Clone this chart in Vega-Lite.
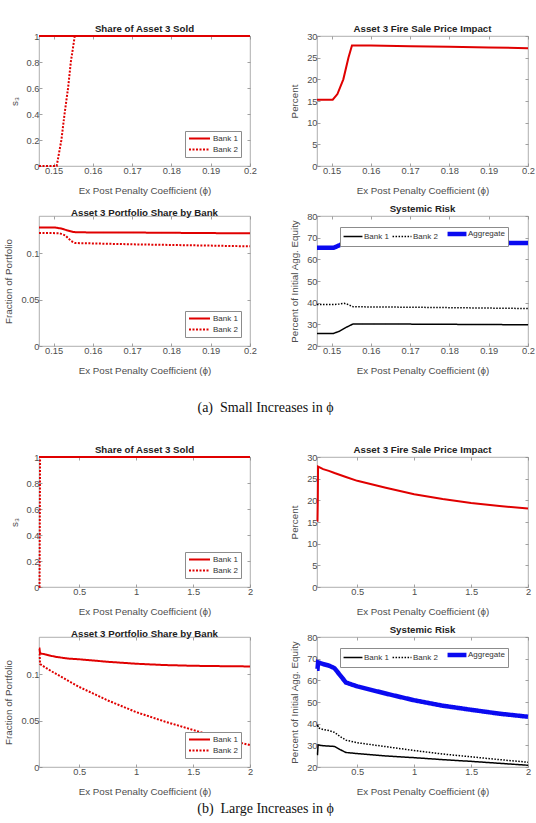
{
  "$schema": "https://vega.github.io/schema/vega-lite/v6.json",
  "padding": {"left": 3, "top": 23, "right": 2, "bottom": 2},
  "columns": 2,
  "align": "each",
  "bounds": "flush",
  "spacing": {"row": 50, "column": 67},
  "resolve": {"scale": {"color": "independent", "strokeDash": "independent"}},
  "config": {
    "font": "Liberation Sans",
    "view": {"stroke": "#9a9a9a", "strokeWidth": 0.8},
    "axis": {
      "grid": false,
      "domain": false,
      "ticks": true,
      "tickColor": "#8a8a8a",
      "tickSize": -3,
      "tickWidth": 0.8,
      "labelFlush": false,
      "labelOverlap": false,
      "labelFontSize": 9.3,
      "labelColor": "#4d4d4d",
      "labelPadding": 3,
      "titleFontSize": 9.8,
      "titleFontWeight": "normal",
      "titleColor": "#4d4d4d",
      "format": ".3~g"
    },
    "axisX": {"titlePadding": 10},
    "axisY": {"titlePadding": 7},
    "title": {"fontSize": 9.7, "fontWeight": "bold", "color": "#222222", "offset": -2},
    "legend": {
      "title": null,
      "strokeColor": "#8c8c8c",
      "fillColor": "white",
      "padding": 3,
      "symbolType": "M-3,0H3",
      "symbolSize": 49,
      "symbolOffset": 7,
      "labelOffset": 9,
      "labelFontSize": 8,
      "labelColor": "#333333",
      "rowPadding": 2,
      "symbolStrokeWidth": 2
    }
  },
  "datasets": {
    "small_sold": [
      {"phi": 0.1463, "series": "Bank 2", "value": 0},
      {"phi": 0.1508, "series": "Bank 2", "value": 0},
      {"phi": 0.152, "series": "Bank 2", "value": 0.2},
      {"phi": 0.1528, "series": "Bank 2", "value": 0.4},
      {"phi": 0.1537, "series": "Bank 2", "value": 0.6},
      {"phi": 0.1544, "series": "Bank 2", "value": 0.8},
      {"phi": 0.1554, "series": "Bank 2", "value": 1},
      {"phi": 0.2, "series": "Bank 2", "value": 1},
      {"phi": 0.1463, "series": "Bank 1", "value": 1},
      {"phi": 0.2, "series": "Bank 1", "value": 1}
    ],
    "small_price": [
      {"phi": 0.1463, "value": 15.3},
      {"phi": 0.1503, "value": 15.3},
      {"phi": 0.1515, "value": 16.6},
      {"phi": 0.153, "value": 20},
      {"phi": 0.1543, "value": 25},
      {"phi": 0.1552, "value": 27.8},
      {"phi": 0.16, "value": 27.8},
      {"phi": 0.17, "value": 27.65},
      {"phi": 0.18, "value": 27.5},
      {"phi": 0.19, "value": 27.35},
      {"phi": 0.2, "value": 27.2}
    ],
    "small_share": [
      {"phi": 0.1463, "series": "Bank 1", "value": 0.1275},
      {"phi": 0.1505, "series": "Bank 1", "value": 0.1275},
      {"phi": 0.152, "series": "Bank 1", "value": 0.1265},
      {"phi": 0.1535, "series": "Bank 1", "value": 0.1245},
      {"phi": 0.155, "series": "Bank 1", "value": 0.1228},
      {"phi": 0.1558, "series": "Bank 1", "value": 0.1224},
      {"phi": 0.17, "series": "Bank 1", "value": 0.1222},
      {"phi": 0.18, "series": "Bank 1", "value": 0.1219},
      {"phi": 0.19, "series": "Bank 1", "value": 0.1216},
      {"phi": 0.2, "series": "Bank 1", "value": 0.1213},
      {"phi": 0.1463, "series": "Bank 2", "value": 0.1217},
      {"phi": 0.1515, "series": "Bank 2", "value": 0.1215},
      {"phi": 0.153, "series": "Bank 2", "value": 0.119},
      {"phi": 0.1545, "series": "Bank 2", "value": 0.113},
      {"phi": 0.1555, "series": "Bank 2", "value": 0.1109},
      {"phi": 0.17, "series": "Bank 2", "value": 0.1095},
      {"phi": 0.18, "series": "Bank 2", "value": 0.1088},
      {"phi": 0.19, "series": "Bank 2", "value": 0.1081},
      {"phi": 0.2, "series": "Bank 2", "value": 0.1073}
    ],
    "small_risk": [
      {"phi": 0.1463, "series": "Aggregate", "value": 65.3},
      {"phi": 0.1505, "series": "Aggregate", "value": 65.3},
      {"phi": 0.152, "series": "Aggregate", "value": 66.5},
      {"phi": 0.1535, "series": "Aggregate", "value": 67.8},
      {"phi": 0.1555, "series": "Aggregate", "value": 68.3},
      {"phi": 0.17, "series": "Aggregate", "value": 68.1},
      {"phi": 0.18, "series": "Aggregate", "value": 67.9},
      {"phi": 0.19, "series": "Aggregate", "value": 67.7},
      {"phi": 0.2, "series": "Aggregate", "value": 67.5},
      {"phi": 0.1463, "series": "Bank 2", "value": 39.1},
      {"phi": 0.1505, "series": "Bank 2", "value": 39.1},
      {"phi": 0.152, "series": "Bank 2", "value": 39.4},
      {"phi": 0.1532, "series": "Bank 2", "value": 39.7},
      {"phi": 0.154, "series": "Bank 2", "value": 39.3},
      {"phi": 0.1555, "series": "Bank 2", "value": 38.1},
      {"phi": 0.17, "series": "Bank 2", "value": 37.9},
      {"phi": 0.18, "series": "Bank 2", "value": 37.7},
      {"phi": 0.19, "series": "Bank 2", "value": 37.5},
      {"phi": 0.2, "series": "Bank 2", "value": 37.3},
      {"phi": 0.1463, "series": "Bank 1", "value": 25.8},
      {"phi": 0.1505, "series": "Bank 1", "value": 25.8},
      {"phi": 0.152, "series": "Bank 1", "value": 26.8},
      {"phi": 0.1535, "series": "Bank 1", "value": 28.4},
      {"phi": 0.1555, "series": "Bank 1", "value": 30.2},
      {"phi": 0.17, "series": "Bank 1", "value": 30.1},
      {"phi": 0.18, "series": "Bank 1", "value": 30},
      {"phi": 0.19, "series": "Bank 1", "value": 29.9},
      {"phi": 0.2, "series": "Bank 1", "value": 29.8}
    ],
    "large_sold": [
      {"phi": 0.146, "series": "Bank 2", "value": 0},
      {"phi": 0.1508, "series": "Bank 2", "value": 0},
      {"phi": 0.1554, "series": "Bank 2", "value": 1},
      {"phi": 2, "series": "Bank 2", "value": 1},
      {"phi": 0.146, "series": "Bank 1", "value": 1},
      {"phi": 2, "series": "Bank 1", "value": 1}
    ],
    "large_price": [
      {"phi": 0.146, "value": 15.3},
      {"phi": 0.1503, "value": 15.3},
      {"phi": 0.153, "value": 20},
      {"phi": 0.1552, "value": 27.8},
      {"phi": 0.2, "value": 27.2},
      {"phi": 0.25, "value": 26.8},
      {"phi": 0.3, "value": 26.3},
      {"phi": 0.4, "value": 25.4},
      {"phi": 0.5, "value": 24.5},
      {"phi": 0.75, "value": 22.9},
      {"phi": 1, "value": 21.4},
      {"phi": 1.25, "value": 20.3},
      {"phi": 1.5, "value": 19.4},
      {"phi": 1.75, "value": 18.7},
      {"phi": 2, "value": 18.1}
    ],
    "large_share": [
      {"phi": 0.146, "series": "Bank 1", "value": 0.1275},
      {"phi": 0.1505, "series": "Bank 1", "value": 0.1275},
      {"phi": 0.1555, "series": "Bank 1", "value": 0.1224},
      {"phi": 0.2, "series": "Bank 1", "value": 0.1213},
      {"phi": 0.25, "series": "Bank 1", "value": 0.1198},
      {"phi": 0.3, "series": "Bank 1", "value": 0.1185},
      {"phi": 0.4, "series": "Bank 1", "value": 0.1168},
      {"phi": 0.5, "series": "Bank 1", "value": 0.116},
      {"phi": 0.75, "series": "Bank 1", "value": 0.1133},
      {"phi": 1, "series": "Bank 1", "value": 0.1112},
      {"phi": 1.25, "series": "Bank 1", "value": 0.1098},
      {"phi": 1.5, "series": "Bank 1", "value": 0.109},
      {"phi": 1.75, "series": "Bank 1", "value": 0.1086},
      {"phi": 2, "series": "Bank 1", "value": 0.1083},
      {"phi": 0.146, "series": "Bank 2", "value": 0.1217},
      {"phi": 0.1515, "series": "Bank 2", "value": 0.1215},
      {"phi": 0.1555, "series": "Bank 2", "value": 0.1109},
      {"phi": 0.2, "series": "Bank 2", "value": 0.1073},
      {"phi": 0.25, "series": "Bank 2", "value": 0.1035},
      {"phi": 0.3, "series": "Bank 2", "value": 0.1},
      {"phi": 0.4, "series": "Bank 2", "value": 0.093},
      {"phi": 0.5, "series": "Bank 2", "value": 0.0862},
      {"phi": 0.75, "series": "Bank 2", "value": 0.0717},
      {"phi": 1, "series": "Bank 2", "value": 0.0591},
      {"phi": 1.25, "series": "Bank 2", "value": 0.049},
      {"phi": 1.5, "series": "Bank 2", "value": 0.0399},
      {"phi": 1.75, "series": "Bank 2", "value": 0.031},
      {"phi": 2, "series": "Bank 2", "value": 0.0236}
    ],
    "large_risk": [
      {"phi": 0.146, "series": "Aggregate", "value": 65.3},
      {"phi": 0.1505, "series": "Aggregate", "value": 65.3},
      {"phi": 0.1555, "series": "Aggregate", "value": 68.3},
      {"phi": 0.2, "series": "Aggregate", "value": 67.5},
      {"phi": 0.25, "series": "Aggregate", "value": 66.8},
      {"phi": 0.3, "series": "Aggregate", "value": 65.6},
      {"phi": 0.35, "series": "Aggregate", "value": 62.3},
      {"phi": 0.4, "series": "Aggregate", "value": 59},
      {"phi": 0.5, "series": "Aggregate", "value": 57.2},
      {"phi": 0.75, "series": "Aggregate", "value": 53.9},
      {"phi": 1, "series": "Aggregate", "value": 50.8},
      {"phi": 1.25, "series": "Aggregate", "value": 48.3},
      {"phi": 1.5, "series": "Aggregate", "value": 46.4},
      {"phi": 1.75, "series": "Aggregate", "value": 44.6},
      {"phi": 2, "series": "Aggregate", "value": 43.2},
      {"phi": 0.146, "series": "Bank 2", "value": 39.1},
      {"phi": 0.1505, "series": "Bank 2", "value": 39.1},
      {"phi": 0.1532, "series": "Bank 2", "value": 39.7},
      {"phi": 0.1555, "series": "Bank 2", "value": 38.1},
      {"phi": 0.2, "series": "Bank 2", "value": 37.3},
      {"phi": 0.25, "series": "Bank 2", "value": 36.8},
      {"phi": 0.3, "series": "Bank 2", "value": 36},
      {"phi": 0.35, "series": "Bank 2", "value": 34},
      {"phi": 0.4, "series": "Bank 2", "value": 32.4},
      {"phi": 0.5, "series": "Bank 2", "value": 31.2},
      {"phi": 0.75, "series": "Bank 2", "value": 29.4},
      {"phi": 1, "series": "Bank 2", "value": 27.6},
      {"phi": 1.25, "series": "Bank 2", "value": 26},
      {"phi": 1.5, "series": "Bank 2", "value": 24.7},
      {"phi": 1.75, "series": "Bank 2", "value": 23.4},
      {"phi": 2, "series": "Bank 2", "value": 22.2},
      {"phi": 0.146, "series": "Bank 1", "value": 25.8},
      {"phi": 0.1505, "series": "Bank 1", "value": 25.8},
      {"phi": 0.1555, "series": "Bank 1", "value": 30.2},
      {"phi": 0.2, "series": "Bank 1", "value": 29.8},
      {"phi": 0.3, "series": "Bank 1", "value": 29.5},
      {"phi": 0.35, "series": "Bank 1", "value": 28},
      {"phi": 0.4, "series": "Bank 1", "value": 26.7},
      {"phi": 0.5, "series": "Bank 1", "value": 26.2},
      {"phi": 0.75, "series": "Bank 1", "value": 25.1},
      {"phi": 1, "series": "Bank 1", "value": 24.3},
      {"phi": 1.25, "series": "Bank 1", "value": 23.4},
      {"phi": 1.5, "series": "Bank 1", "value": 22.6},
      {"phi": 1.75, "series": "Bank 1", "value": 21.7},
      {"phi": 2, "series": "Bank 1", "value": 20.8}
    ]
  },
  "concat": [
    {
      "width": 211, "height": 130,
      "title": "Share of Asset 3 Sold",
      "data": {"name": "small_sold"},
      "layer": [
        {
          "mark": {"type": "line", "color": "#e00000", "strokeWidth": 2},
          "encoding": {
            "x": {"field": "phi", "type": "quantitative", "scale": {"domain": [0.1463, 0.2], "nice": false, "zero": false}, "axis": {"values": [0.15, 0.16, 0.17, 0.18, 0.19, 0.2], "title": "Ex Post Penalty Coefficient (ϕ)"}},
            "y": {"field": "value", "type": "quantitative", "scale": {"domain": [0, 1], "nice": false}, "axis": {"values": [0, 0.2, 0.4, 0.6, 0.8, 1], "title": "s₃"}},
            "strokeDash": {"field": "series", "type": "nominal", "scale": {"domain": ["Bank 1", "Bank 2"], "range": [[1, 0], [2, 1.5]]}, "legend": {"orient": "bottom-right", "offset": 9, "symbolStrokeColor": "#e00000"}}
          }
        },
        {
          "mark": {"type": "point", "opacity": 0},
          "encoding": {
            "x": {"field": "phi", "type": "quantitative", "axis": {"orient": "top", "values": [0.15, 0.16, 0.17, 0.18, 0.19, 0.2], "labels": false, "title": null}},
            "y": {"field": "value", "type": "quantitative", "axis": {"orient": "right", "values": [0, 0.2, 0.4, 0.6, 0.8, 1], "labels": false, "title": null}}
          }
        }
      ],
      "resolve": {"axis": {"x": "independent", "y": "independent"}}
    },
    {
      "width": 211, "height": 130,
      "title": "Asset 3 Fire Sale Price Impact",
      "data": {"name": "small_price"},
      "layer": [
        {
          "mark": {"type": "line", "color": "#e00000", "strokeWidth": 2},
          "encoding": {
            "x": {"field": "phi", "type": "quantitative", "scale": {"domain": [0.1463, 0.2], "nice": false, "zero": false}, "axis": {"values": [0.15, 0.16, 0.17, 0.18, 0.19, 0.2], "title": "Ex Post Penalty Coefficient (ϕ)"}},
            "y": {"field": "value", "type": "quantitative", "scale": {"domain": [0, 30], "nice": false}, "axis": {"values": [0, 5, 10, 15, 20, 25, 30], "title": "Percent"}}
          }
        },
        {
          "mark": {"type": "point", "opacity": 0},
          "encoding": {
            "x": {"field": "phi", "type": "quantitative", "axis": {"orient": "top", "values": [0.15, 0.16, 0.17, 0.18, 0.19, 0.2], "labels": false, "title": null}},
            "y": {"field": "value", "type": "quantitative", "axis": {"orient": "right", "values": [0, 5, 10, 15, 20, 25, 30], "labels": false, "title": null}}
          }
        }
      ],
      "resolve": {"axis": {"x": "independent", "y": "independent"}}
    },
    {
      "width": 211, "height": 130,
      "title": "Asset 3 Portfolio Share by Bank",
      "data": {"name": "small_share"},
      "layer": [
        {
          "mark": {"type": "line", "color": "#e00000", "strokeWidth": 2},
          "encoding": {
            "x": {"field": "phi", "type": "quantitative", "scale": {"domain": [0.1463, 0.2], "nice": false, "zero": false}, "axis": {"values": [0.15, 0.16, 0.17, 0.18, 0.19, 0.2], "title": "Ex Post Penalty Coefficient (ϕ)"}},
            "y": {"field": "value", "type": "quantitative", "scale": {"domain": [0, 0.14], "nice": false}, "axis": {"values": [0, 0.05, 0.1], "title": "Fraction of Portfolio"}},
            "strokeDash": {"field": "series", "type": "nominal", "scale": {"domain": ["Bank 1", "Bank 2"], "range": [[1, 0], [2, 1.5]]}, "legend": {"orient": "bottom-right", "offset": 9, "symbolStrokeColor": "#e00000"}}
          }
        },
        {
          "mark": {"type": "point", "opacity": 0},
          "encoding": {
            "x": {"field": "phi", "type": "quantitative", "axis": {"orient": "top", "values": [0.15, 0.16, 0.17, 0.18, 0.19, 0.2], "labels": false, "title": null}},
            "y": {"field": "value", "type": "quantitative", "axis": {"orient": "right", "values": [0, 0.05, 0.1], "labels": false, "title": null}}
          }
        }
      ],
      "resolve": {"axis": {"x": "independent", "y": "independent"}}
    },
    {
      "width": 211, "height": 130,
      "title": "Systemic Risk",
      "data": {"name": "small_risk"},
      "layer": [
        {
          "transform": [{"filter": "datum.series !== 'Aggregate'"}],
          "mark": {"type": "line", "strokeWidth": 1.5},
          "encoding": {
            "x": {"field": "phi", "type": "quantitative", "scale": {"domain": [0.1463, 0.2], "nice": false, "zero": false}, "axis": {"values": [0.15, 0.16, 0.17, 0.18, 0.19, 0.2], "title": "Ex Post Penalty Coefficient (ϕ)"}},
            "y": {"field": "value", "type": "quantitative", "scale": {"domain": [20, 80], "nice": false, "zero": false}, "axis": {"values": [20, 30, 40, 50, 60, 70, 80], "title": "Percent of Initial Agg. Equity"}},
            "color": {"field": "series", "type": "nominal", "scale": {"domain": ["Bank 1", "Bank 2", "Aggregate"], "range": ["#000000", "#000000", "#0a0af0"]}, "legend": {"orient": "none", "legendX": 23, "legendY": 11, "direction": "horizontal", "symbolType": "M-2.7,0H2.7", "symbolOffset": 6, "labelOffset": 7, "columnPadding": 0, "encode": {"symbols": {"update": {"strokeWidth": {"signal": "datum.value === 'Aggregate' ? 4.5 : 1.5"}}}}}},
            "strokeDash": {"field": "series", "type": "nominal", "scale": {"domain": ["Bank 1", "Bank 2", "Aggregate"], "range": [[1, 0], [1.5, 1.5], [1, 0]]}, "legend": {"orient": "none", "legendX": 23, "legendY": 11, "direction": "horizontal", "symbolType": "M-2.7,0H2.7", "symbolOffset": 6, "labelOffset": 7, "columnPadding": 0, "encode": {"symbols": {"update": {"strokeWidth": {"signal": "datum.value === 'Aggregate' ? 4.5 : 1.5"}}}}}}
          }
        },
        {
          "transform": [{"filter": "datum.series === 'Aggregate'"}],
          "mark": {"type": "line", "strokeWidth": 4.5},
          "encoding": {
            "x": {"field": "phi", "type": "quantitative", "axis": null},
            "y": {"field": "value", "type": "quantitative", "axis": null},
            "color": {"field": "series", "type": "nominal", "legend": {"orient": "none", "legendX": 23, "legendY": 11, "direction": "horizontal", "symbolType": "M-2.7,0H2.7", "symbolOffset": 6, "labelOffset": 7, "columnPadding": 0, "encode": {"symbols": {"update": {"strokeWidth": {"signal": "datum.value === 'Aggregate' ? 4.5 : 1.5"}}}}}},
            "strokeDash": {"field": "series", "type": "nominal", "legend": {"orient": "none", "legendX": 23, "legendY": 11, "direction": "horizontal", "symbolType": "M-2.7,0H2.7", "symbolOffset": 6, "labelOffset": 7, "columnPadding": 0, "encode": {"symbols": {"update": {"strokeWidth": {"signal": "datum.value === 'Aggregate' ? 4.5 : 1.5"}}}}}}
          }
        },
        {
          "mark": {"type": "point", "opacity": 0},
          "encoding": {
            "x": {"field": "phi", "type": "quantitative", "axis": {"orient": "top", "values": [0.15, 0.16, 0.17, 0.18, 0.19, 0.2], "labels": false, "title": null}},
            "y": {"field": "value", "type": "quantitative", "axis": {"orient": "right", "values": [20, 30, 40, 50, 60, 70, 80], "labels": false, "title": null}}
          }
        }
      ],
      "resolve": {"axis": {"x": "independent", "y": "independent"}}
    },
    {
      "width": 211, "height": 11,
      "view": {"stroke": null},
      "title": {"text": "(a)\u2002Small Increases in ϕ", "orient": "top", "anchor": "middle", "baseline": "alphabetic", "font": "Liberation Serif", "fontSize": 14, "fontWeight": "normal", "color": "#111111", "offset": 0, "dx": 121, "dy": 30},
      "data": {"values": []},
      "mark": "point"
    },
    {
      "width": 211, "height": 11,
      "view": {"stroke": null},
      "data": {"values": []},
      "mark": "point"
    },
    {
      "width": 211, "height": 130,
      "title": "Share of Asset 3 Sold",
      "data": {"name": "large_sold"},
      "layer": [
        {
          "mark": {"type": "line", "color": "#e00000", "strokeWidth": 2},
          "encoding": {
            "x": {"field": "phi", "type": "quantitative", "scale": {"domain": [0.146, 2], "nice": false, "zero": false}, "axis": {"values": [0.5, 1, 1.5, 2], "title": "Ex Post Penalty Coefficient (ϕ)"}},
            "y": {"field": "value", "type": "quantitative", "scale": {"domain": [0, 1], "nice": false}, "axis": {"values": [0, 0.2, 0.4, 0.6, 0.8, 1], "title": "s₃"}},
            "strokeDash": {"field": "series", "type": "nominal", "scale": {"domain": ["Bank 1", "Bank 2"], "range": [[1, 0], [2, 1.5]]}, "legend": {"orient": "bottom-right", "offset": 9, "symbolStrokeColor": "#e00000"}}
          }
        },
        {
          "mark": {"type": "point", "opacity": 0},
          "encoding": {
            "x": {"field": "phi", "type": "quantitative", "axis": {"orient": "top", "values": [0.5, 1, 1.5, 2], "labels": false, "title": null}},
            "y": {"field": "value", "type": "quantitative", "axis": {"orient": "right", "values": [0, 0.2, 0.4, 0.6, 0.8, 1], "labels": false, "title": null}}
          }
        }
      ],
      "resolve": {"axis": {"x": "independent", "y": "independent"}}
    },
    {
      "width": 211, "height": 130,
      "title": "Asset 3 Fire Sale Price Impact",
      "data": {"name": "large_price"},
      "layer": [
        {
          "mark": {"type": "line", "color": "#e00000", "strokeWidth": 2},
          "encoding": {
            "x": {"field": "phi", "type": "quantitative", "scale": {"domain": [0.146, 2], "nice": false, "zero": false}, "axis": {"values": [0.5, 1, 1.5, 2], "title": "Ex Post Penalty Coefficient (ϕ)"}},
            "y": {"field": "value", "type": "quantitative", "scale": {"domain": [0, 30], "nice": false}, "axis": {"values": [0, 5, 10, 15, 20, 25, 30], "title": "Percent"}}
          }
        },
        {
          "mark": {"type": "point", "opacity": 0},
          "encoding": {
            "x": {"field": "phi", "type": "quantitative", "axis": {"orient": "top", "values": [0.5, 1, 1.5, 2], "labels": false, "title": null}},
            "y": {"field": "value", "type": "quantitative", "axis": {"orient": "right", "values": [0, 5, 10, 15, 20, 25, 30], "labels": false, "title": null}}
          }
        }
      ],
      "resolve": {"axis": {"x": "independent", "y": "independent"}}
    },
    {
      "width": 211, "height": 130,
      "title": "Asset 3 Portfolio Share by Bank",
      "data": {"name": "large_share"},
      "layer": [
        {
          "mark": {"type": "line", "color": "#e00000", "strokeWidth": 2},
          "encoding": {
            "x": {"field": "phi", "type": "quantitative", "scale": {"domain": [0.146, 2], "nice": false, "zero": false}, "axis": {"values": [0.5, 1, 1.5, 2], "title": "Ex Post Penalty Coefficient (ϕ)"}},
            "y": {"field": "value", "type": "quantitative", "scale": {"domain": [0, 0.14], "nice": false}, "axis": {"values": [0, 0.05, 0.1], "title": "Fraction of Portfolio"}},
            "strokeDash": {"field": "series", "type": "nominal", "scale": {"domain": ["Bank 1", "Bank 2"], "range": [[1, 0], [2, 1.5]]}, "legend": {"orient": "bottom-right", "offset": 9, "symbolStrokeColor": "#e00000"}}
          }
        },
        {
          "mark": {"type": "point", "opacity": 0},
          "encoding": {
            "x": {"field": "phi", "type": "quantitative", "axis": {"orient": "top", "values": [0.5, 1, 1.5, 2], "labels": false, "title": null}},
            "y": {"field": "value", "type": "quantitative", "axis": {"orient": "right", "values": [0, 0.05, 0.1], "labels": false, "title": null}}
          }
        }
      ],
      "resolve": {"axis": {"x": "independent", "y": "independent"}}
    },
    {
      "width": 211, "height": 130,
      "title": "Systemic Risk",
      "data": {"name": "large_risk"},
      "layer": [
        {
          "transform": [{"filter": "datum.series !== 'Aggregate'"}],
          "mark": {"type": "line", "strokeWidth": 1.5},
          "encoding": {
            "x": {"field": "phi", "type": "quantitative", "scale": {"domain": [0.146, 2], "nice": false, "zero": false}, "axis": {"values": [0.5, 1, 1.5, 2], "title": "Ex Post Penalty Coefficient (ϕ)"}},
            "y": {"field": "value", "type": "quantitative", "scale": {"domain": [20, 80], "nice": false, "zero": false}, "axis": {"values": [20, 30, 40, 50, 60, 70, 80], "title": "Percent of Initial Agg. Equity"}},
            "color": {"field": "series", "type": "nominal", "scale": {"domain": ["Bank 1", "Bank 2", "Aggregate"], "range": ["#000000", "#000000", "#0a0af0"]}, "legend": {"orient": "none", "legendX": 23, "legendY": 11, "direction": "horizontal", "symbolType": "M-2.7,0H2.7", "symbolOffset": 6, "labelOffset": 7, "columnPadding": 0, "encode": {"symbols": {"update": {"strokeWidth": {"signal": "datum.value === 'Aggregate' ? 4.5 : 1.5"}}}}}},
            "strokeDash": {"field": "series", "type": "nominal", "scale": {"domain": ["Bank 1", "Bank 2", "Aggregate"], "range": [[1, 0], [1.5, 1.5], [1, 0]]}, "legend": {"orient": "none", "legendX": 23, "legendY": 11, "direction": "horizontal", "symbolType": "M-2.7,0H2.7", "symbolOffset": 6, "labelOffset": 7, "columnPadding": 0, "encode": {"symbols": {"update": {"strokeWidth": {"signal": "datum.value === 'Aggregate' ? 4.5 : 1.5"}}}}}}
          }
        },
        {
          "transform": [{"filter": "datum.series === 'Aggregate'"}],
          "mark": {"type": "line", "strokeWidth": 4.5},
          "encoding": {
            "x": {"field": "phi", "type": "quantitative", "axis": null},
            "y": {"field": "value", "type": "quantitative", "axis": null},
            "color": {"field": "series", "type": "nominal", "legend": {"orient": "none", "legendX": 23, "legendY": 11, "direction": "horizontal", "symbolType": "M-2.7,0H2.7", "symbolOffset": 6, "labelOffset": 7, "columnPadding": 0, "encode": {"symbols": {"update": {"strokeWidth": {"signal": "datum.value === 'Aggregate' ? 4.5 : 1.5"}}}}}},
            "strokeDash": {"field": "series", "type": "nominal", "legend": {"orient": "none", "legendX": 23, "legendY": 11, "direction": "horizontal", "symbolType": "M-2.7,0H2.7", "symbolOffset": 6, "labelOffset": 7, "columnPadding": 0, "encode": {"symbols": {"update": {"strokeWidth": {"signal": "datum.value === 'Aggregate' ? 4.5 : 1.5"}}}}}}
          }
        },
        {
          "mark": {"type": "point", "opacity": 0},
          "encoding": {
            "x": {"field": "phi", "type": "quantitative", "axis": {"orient": "top", "values": [0.5, 1, 1.5, 2], "labels": false, "title": null}},
            "y": {"field": "value", "type": "quantitative", "axis": {"orient": "right", "values": [20, 30, 40, 50, 60, 70, 80], "labels": false, "title": null}}
          }
        }
      ],
      "resolve": {"axis": {"x": "independent", "y": "independent"}}
    },
    {
      "width": 211, "height": 1,
      "view": {"stroke": null},
      "title": {"text": "(b)\u2002Large Increases in ϕ", "orient": "top", "anchor": "middle", "baseline": "alphabetic", "font": "Liberation Serif", "fontSize": 14, "fontWeight": "normal", "color": "#111111", "offset": 0, "dx": 121, "dy": 10},
      "data": {"values": []},
      "mark": "point"
    }
  ]
}
